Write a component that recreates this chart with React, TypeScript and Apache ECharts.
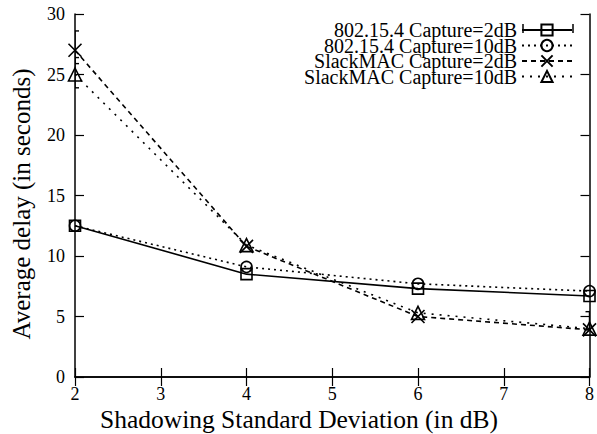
import React, { useEffect, useRef } from "react";
import * as echarts from "echarts";

const xValues = [2, 4, 6, 8];
const seriesNames = [
  "802.15.4 Capture=2dB",
  "802.15.4 Capture=10dB",
  "SlackMAC Capture=2dB",
  "SlackMAC Capture=10dB",
];
const ieee2dB = [12.5, 8.5, 7.3, 6.7];
const ieee10dB = [12.5, 9.1, 7.7, 7.1];
const slack2dB = [27.0, 10.8, 5.0, 3.9];
const slack10dB = [25.0, 10.9, 5.3, 4.0];
// error bars [x, low, high]
const slack2dBErr = [
  [2, 25.9, 28.6],
  [8, 3.9, 5.4],
];
const slack10dBErr = [[2, 23.9, 26.4]];
const xTitle = "Shadowing Standard Deviation (in dB)";
const yTitle = "Average delay (in seconds)";

const FONT = "'Liberation Serif', 'Times New Roman', serif";
const X_SYMBOL = "path://M0,0L10,10M10,0L0,10";

export default function App() {
  const ref = useRef<HTMLDivElement>(null);
  useEffect(() => {
    if (!ref.current) return;
    const chart = echarts.init(ref.current, undefined, { renderer: "svg" });
    const mk = (vals: number[]) => vals.map((v, i) => [xValues[i], v]);
    const lineSeries = (
      name: string,
      vals: number[],
      type: any,
      symbol: string,
      size: number
    ) => ({
      name,
      type: "line",
      data: mk(vals),
      symbol,
      symbolSize: size,
      lineStyle: { color: "#000", width: 1.6, type },
      itemStyle: { color: "rgba(255,255,255,0)", borderColor: "#000", borderWidth: 1.6 },
      z: 3,
    });
    const errSeries = (data: number[][]) => ({
      type: "custom",
      data,
      clip: true,
      silent: true,
      z: 2,
      renderItem: (params: any, api: any) => {
        const x = api.value(0);
        const lo = api.coord([x, api.value(1)]);
        const hi = api.coord([x, api.value(2)]);
        const w = 4;
        const style = { stroke: "#000", lineWidth: 1.4 };
        return {
          type: "group",
          children: [
            { type: "line", shape: { x1: lo[0], y1: lo[1], x2: hi[0], y2: hi[1] }, style },
            { type: "line", shape: { x1: hi[0] - w, y1: hi[1], x2: hi[0] + w, y2: hi[1] }, style },
            { type: "line", shape: { x1: lo[0] - w, y1: lo[1], x2: lo[0] + w, y2: lo[1] }, style },
          ],
        };
      },
    });
    const axisCommon = {
      axisLine: { show: true, lineStyle: { color: "#000", width: 1.5 } },
      axisTick: { show: true, inside: true, length: 9, lineStyle: { color: "#000", width: 1.2 } },
      splitLine: { show: false },
    };
    const capStyle = { stroke: "#000", lineWidth: 1.5 };
    chart.setOption({
      animation: false,
      backgroundColor: "#fff",
      grid: { left: 75, right: 7, top: 14, bottom: 57 },
      legend: {
        orient: "vertical",
        right: 24,
        top: 20,
        padding: 0,
        align: "right",
        itemWidth: 50,
        itemHeight: 14,
        itemGap: -4.5,
        textStyle: {
          fontFamily: FONT,
          fontSize: 20,
          color: "#000",
          padding: [0, 0, 0, 0],
        },
        data: seriesNames,
      },
      graphic: [
        {
          type: "text",
          x: 299,
          y: 419,
          style: {
            text: xTitle,
            fontFamily: FONT,
            fontSize: 25.5,
            fill: "#000",
            align: "center",
            verticalAlign: "middle",
          },
        },
        {
          type: "text",
          x: 21,
          y: 204,
          rotation: Math.PI / 2,
          style: {
            text: yTitle,
            fontFamily: FONT,
            fontSize: 25,
            fill: "#000",
            align: "center",
            verticalAlign: "middle",
          },
        },
        { type: "line", shape: { x1: 523, y1: 24, x2: 523, y2: 33 }, style: capStyle },
        { type: "line", shape: { x1: 573, y1: 24, x2: 573, y2: 33 }, style: capStyle },
      ],
      xAxis: [
        {
          type: "value",
          min: 2,
          max: 8,
          interval: 1,
          axisLabel: { fontFamily: FONT, fontSize: 18, color: "#000", margin: 8 },
          ...axisCommon,
        },
        {
          type: "value",
          position: "top",
          min: 2,
          max: 8,
          interval: 1,
          axisLabel: { show: false },
          ...axisCommon,
        },
      ],
      yAxis: [
        {
          type: "value",
          min: 0,
          max: 30,
          interval: 5,
          axisLabel: { fontFamily: FONT, fontSize: 18, color: "#000", margin: 10 },
          ...axisCommon,
        },
        {
          type: "value",
          position: "right",
          min: 0,
          max: 30,
          interval: 5,
          axisLabel: { show: false },
          ...axisCommon,
        },
      ],
      series: [
        lineSeries(seriesNames[0], ieee2dB, "solid", "rect", 11),
        lineSeries(seriesNames[1], ieee10dB, [2, 4], "circle", 11),
        lineSeries(seriesNames[2], slack2dB, [5, 4], X_SYMBOL, 13),
        lineSeries(seriesNames[3], slack10dB, [2, 6], "triangle", 13),
        errSeries(slack2dBErr),
        errSeries(slack10dBErr),
      ],
    });
    return () => chart.dispose();
  }, []);
  return (
    <div
      ref={ref}
      style={{ position: "fixed", left: 0, top: 0, width: 597, height: 434 }}
    />
  );
}
